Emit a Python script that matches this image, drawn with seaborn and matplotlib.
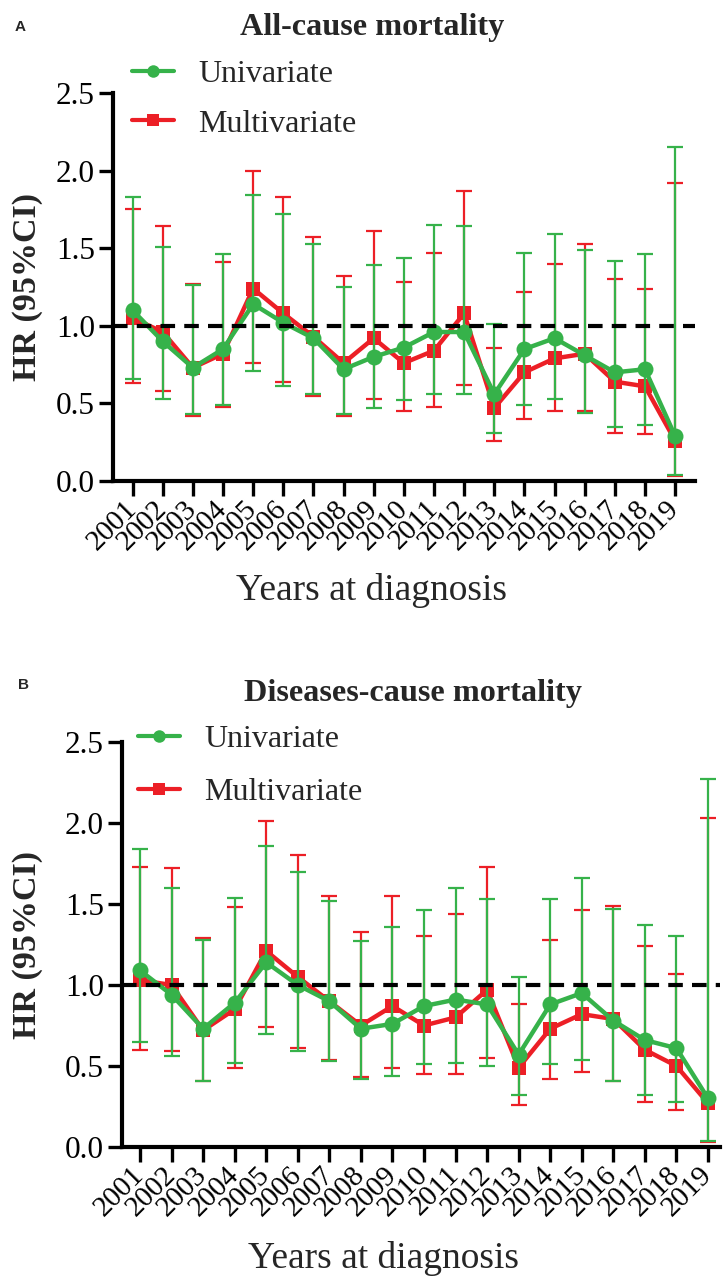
import numpy as np
import pandas as pd
import matplotlib
matplotlib.use("Agg")
import matplotlib.pyplot as plt
import seaborn as sns
from matplotlib.lines import Line2D

years = list(range(2001, 2020))
year_labels = [str(y) for y in years]
series_names = ["Univariate", "Multivariate"]

# Panel A: All-cause mortality
a_uni_hr = [1.10, 0.90, 0.73, 0.85, 1.14, 1.02, 0.92, 0.72, 0.80, 0.86, 0.96, 0.96, 0.56, 0.85, 0.92, 0.81, 0.70, 0.72, 0.29]
a_uni_lo = [0.66, 0.53, 0.43, 0.49, 0.71, 0.61, 0.56, 0.43, 0.47, 0.52, 0.56, 0.56, 0.31, 0.49, 0.53, 0.44, 0.35, 0.36, 0.04]
a_uni_hi = [1.83, 1.51, 1.26, 1.46, 1.84, 1.72, 1.53, 1.25, 1.39, 1.44, 1.65, 1.64, 1.01, 1.47, 1.59, 1.49, 1.42, 1.46, 2.15]
a_mul_hr = [1.05, 0.96, 0.73, 0.82, 1.24, 1.08, 0.93, 0.76, 0.92, 0.76, 0.84, 1.08, 0.47, 0.70, 0.79, 0.82, 0.64, 0.61, 0.26]
a_mul_lo = [0.63, 0.58, 0.42, 0.48, 0.76, 0.64, 0.55, 0.42, 0.53, 0.45, 0.48, 0.62, 0.26, 0.40, 0.45, 0.45, 0.31, 0.30, 0.03]
a_mul_hi = [1.75, 1.64, 1.27, 1.41, 2.00, 1.83, 1.57, 1.32, 1.61, 1.28, 1.47, 1.87, 0.86, 1.22, 1.40, 1.53, 1.30, 1.24, 1.92]

# Panel B: Diseases-cause mortality
b_uni_hr = [1.09, 0.94, 0.73, 0.89, 1.14, 1.00, 0.90, 0.73, 0.76, 0.87, 0.91, 0.88, 0.57, 0.88, 0.95, 0.78, 0.66, 0.61, 0.30]
b_uni_lo = [0.65, 0.56, 0.41, 0.52, 0.70, 0.59, 0.53, 0.42, 0.44, 0.51, 0.52, 0.50, 0.32, 0.51, 0.54, 0.41, 0.32, 0.28, 0.04]
b_uni_hi = [1.84, 1.60, 1.28, 1.54, 1.86, 1.70, 1.52, 1.27, 1.36, 1.46, 1.60, 1.53, 1.05, 1.53, 1.66, 1.47, 1.37, 1.30, 2.27]
b_mul_hr = [1.03, 1.00, 0.72, 0.85, 1.21, 1.05, 0.90, 0.75, 0.87, 0.75, 0.80, 0.97, 0.49, 0.73, 0.82, 0.79, 0.60, 0.50, 0.27]
b_mul_lo = [0.60, 0.59, 0.41, 0.49, 0.74, 0.61, 0.54, 0.43, 0.49, 0.45, 0.45, 0.55, 0.26, 0.42, 0.46, 0.41, 0.28, 0.23, 0.03]
b_mul_hi = [1.73, 1.72, 1.29, 1.48, 2.01, 1.80, 1.55, 1.33, 1.55, 1.30, 1.44, 1.73, 0.88, 1.28, 1.46, 1.49, 1.24, 1.07, 2.03]

y_ticks = [0.0, 0.5, 1.0, 1.5, 2.0, 2.5]
y_tick_labels = ["0.0", "0.5", "1.0", "1.5", "2.0", "2.5"]

GREEN = "#36B24A"
RED = "#EC1F26"
SERIF = ["Liberation Serif", "DejaVu Serif"]

sns.set_style("ticks")
plt.rcParams["font.family"] = SERIF

W, H = 723, 1277
fig = plt.figure(figsize=(W / 100, H / 100), dpi=100)


def fx(px):
    return px / W


def fy(py):
    return 1 - py / H


def add_axes(left, top, right, bottom):
    return fig.add_axes([fx(left), fy(bottom), fx(right - left), (bottom - top) / H])


def draw_panel(ax, uni, mul, xlim, title, title_xy, panel_letter, letter_xy,
               legend_xy, legend_spacing, ylabel_xy, xlabel_xy):
    series = [
        (mul, RED, "s", 10.5, 3),
        (uni, GREEN, "o", 11.5, 5),
    ]
    for (hr, lo, hi), color, marker, ms, z in series:
        hr = np.array(hr); lo = np.array(lo); hi = np.array(hi)
        ax.errorbar(years, hr, yerr=[hr - lo, hi - hr], fmt="none", ecolor=color,
                    elinewidth=1.6, capsize=6, capthick=1.6, zorder=z)
        df = pd.DataFrame({"year": years, "hr": hr})
        sns.lineplot(data=df, x="year", y="hr", ax=ax, color=color, marker=marker,
                     markersize=ms, markeredgewidth=0, linewidth=3.2, legend=False,
                     zorder=z + 1)
    ax.axhline(1.0, color="black", lw=3, ls=(0, (3.5, 2.2)), zorder=8)

    ax.set_xlim(*xlim)
    ax.set_ylim(0, 2.5)
    ax.set_yticks(y_ticks)
    ax.set_yticklabels(y_tick_labels)
    ax.set_xticks(years)
    ax.set_xticklabels(year_labels, rotation=45, ha="right", va="center",
                       rotation_mode="anchor")
    ax.set_xlabel("")
    ax.set_ylabel("")
    for s in ["top", "right"]:
        ax.spines[s].set_visible(False)
    for s in ["left", "bottom"]:
        ax.spines[s].set_linewidth(3)
        ax.spines[s].set_color("black")
    ax.tick_params(axis="y", length=10, width=2.4, labelsize=22.5, pad=3, colors="black")
    ax.tick_params(axis="x", length=11, width=2.4, labelsize=21, pad=6, colors="black")

    fig.text(fx(title_xy[0]), fy(title_xy[1]), title, ha="center", va="center",
             fontsize=23.2, fontweight="bold", family=SERIF)
    fig.text(fx(letter_xy[0]), fy(letter_xy[1]), panel_letter, ha="left", va="center",
             fontsize=11, fontweight="bold", family=["Liberation Sans", "DejaVu Sans"])
    fig.text(fx(ylabel_xy[0]), fy(ylabel_xy[1]), "HR (95%CI)", ha="center", va="center",
             rotation=90, fontsize=24.5, fontweight="bold", family=SERIF)
    fig.text(fx(xlabel_xy[0]), fy(xlabel_xy[1]), "Years at diagnosis", ha="center",
             va="center", fontsize=27, family=SERIF)

    handles = [
        Line2D([0], [0], color=GREEN, marker="o", lw=3, markersize=9, markeredgewidth=0),
        Line2D([0], [0], color=RED, marker="s", lw=3, markersize=9, markeredgewidth=0),
    ]
    leg = fig.legend(handles, series_names, loc="upper left",
                     bbox_to_anchor=(fx(legend_xy[0]), fy(legend_xy[1])),
                     bbox_transform=fig.transFigure, frameon=False, fontsize=23,
                     handlelength=1.3, handletextpad=0.78, labelspacing=legend_spacing,
                     borderpad=0, borderaxespad=0)
    for t in leg.get_texts():
        t.set_family(SERIF)


axA = add_axes(113, 93, 695, 481)
xlimA = (2001 - 0.65, 2001 + 18.66)
draw_panel(axA, (a_uni_hr, a_uni_lo, a_uni_hi), (a_mul_hr, a_mul_lo, a_mul_hi), xlimA,
           "All-cause mortality", (372, 27), "A", (15, 27), (132, 60), 0.62,
           (28, 287), (372, 591))

axB = add_axes(122, 742, 720, 1147)
xlimB = (2001 - 0.57, 2001 + 18.38)
draw_panel(axB, (b_uni_hr, b_uni_lo, b_uni_hi), (b_mul_hr, b_mul_lo, b_mul_hi), xlimB,
           "Diseases-cause mortality", (413, 693), "B", (18, 685), (138, 725), 0.74,
           (28, 945), (383, 1259))

fig.savefig("out.png", dpi=100)
